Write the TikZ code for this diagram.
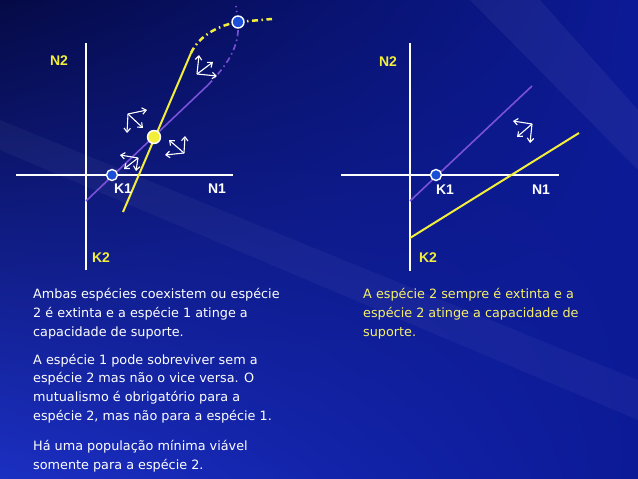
\documentclass[tikz,border=0pt]{standalone}
\usepackage{fontspec}
\setmainfont{DejaVu Sans}
\newfontfamily\axfont{Liberation Sans}
\usetikzlibrary{arrows.meta,shadings}
\definecolor{bgdark}{HTML}{050A45}
\definecolor{bgmid}{HTML}{0C1A96}
\definecolor{bglight}{HTML}{1B2FC2}
\definecolor{isoyel}{HTML}{F2EE3A}
\definecolor{isopur}{HTML}{7A52DA}
\definecolor{dotblue}{HTML}{1A4FD6}
\definecolor{txtyel}{HTML}{F6F06A}

\begin{document}
\begin{tikzpicture}[x=1pt,y=-1pt,
  axis/.style={white,line width=2pt},
  isoone/.style={isopur,line width=1.6pt},
  isotwo/.style={isoyel,line width=2pt},
  dashdot/.style={dash pattern=on 6pt off 3.5pt on 1.5pt off 3.5pt},
  axlabel/.style={font=\axfont\bfseries\fontsize{14}{14}\selectfont},
  vec/.style={white,line width=1.1pt,-{Straight Barb[length=4pt,width=6.5pt]}},
  eqdot/.style={circle,draw=white,line width=1.4pt,minimum size=11pt,inner sep=0pt},
  bodytext/.style={anchor=base west,align=left,inner sep=0pt,
    font=\fontsize{12.8}{18.6}\selectfont}]
  % background
  \shade[upper left=bgdark,upper right=bgmid,lower left=bglight,lower right=bgmid]
    (0,0) rectangle (638,479);
  \fill[white,opacity=0.05] (470,0) -- (540,0) -- (638,110) -- (638,170) -- cycle;
  \fill[white,opacity=0.04] (0,120) -- (0,150) -- (638,420) -- (638,380) -- cycle;
  \useasboundingbox (0,0) rectangle (638,479);

  % ---- left panel: axes
  \coordinate (lxa) at (16,175);  \coordinate (lxb) at (233,175);
  \coordinate (lya) at (86,43);   \coordinate (lyb) at (86,270);
  \draw[axis] (lxa) -- (lxb);
  \draw[axis] (lya) -- (lyb);
  % isoclines
  \coordinate (lpa) at (86,201);  \coordinate (lpb) at (208,85);
  \coordinate (lya2) at (123,212); \coordinate (lyb2) at (191,53);
  \coordinate (lsat) at (238,22);
  \draw[isoone] (lpa) -- (lpb);
  \draw[isoone,dashdot] (lpb) .. controls (226,66) and (240,48) .. (lsat) -- (236,6);
  \draw[isotwo] (lya2) -- (lyb2);
  \draw[isotwo,line width=2.5pt,dashdot] (lyb2) .. controls (198,38) and (215,26) .. (lsat) -- (272,19);
  % equilibria
  \node[eqdot,fill=dotblue] (lk1) at (112,175) {};
  \node[eqdot,fill=isoyel,minimum size=13pt] (lmid) at (154,137) {};
  \node[eqdot,fill=dotblue,minimum size=12pt] (ltop) at (lsat) {};
  % labels
  \node[axlabel,isoyel] (ln2) at (59,61) {N2};
  \node[axlabel,isoyel] (lk2) at (101,258) {K2};
  \node[axlabel,white] (lk1t) at (123,189) {K1};
  \node[axlabel,white] (ln1) at (217,189) {N1};

  % ---- right panel: axes
  \coordinate (rxa) at (341,175); \coordinate (rxb) at (559,175);
  \coordinate (rya) at (410,43);  \coordinate (ryb) at (410,271);
  \draw[axis] (rxa) -- (rxb);
  \draw[axis] (rya) -- (ryb);
  % isoclines
  \coordinate (rpa) at (410,201); \coordinate (rpb) at (532,86);
  \coordinate (rya2) at (410,238); \coordinate (ryb2) at (579,133);
  \draw[isoone] (rpa) -- (rpb);
  \draw[isotwo] (rya2) -- (ryb2);
  \node[eqdot,fill=dotblue] (rk1) at (436,175) {};
  % labels
  \node[axlabel,isoyel] (rn2) at (388,62) {N2};
  \node[axlabel,isoyel] (rk2) at (428,258) {K2};
  \node[axlabel,white] (rk1t) at (445,190) {K1};
  \node[axlabel,white] (rn1) at (541,190) {N1};

  % ---- vectors: origin / three tips
  \foreach \n/\ox/\oy/\ax/\ay/\bx/\by/\cx/\cy in {
      1/128/114/147/110/127/133/143/128,
      2/184/153/185/136/165/155/169/140,
      3/138/158/120/155/124/169/136/171,
      4/197/74/199/55/217/76/213/62,
      5/532/124/513/121/517/137/530/143}{
    \coordinate (v\n) at (\ox,\oy);
    \coordinate (v\n a) at (\ax,\ay);
    \coordinate (v\n b) at (\bx,\by);
    \coordinate (v\n c) at (\cx,\cy);
    \draw[vec] (v\n) -- (v\n a);
    \draw[vec] (v\n) -- (v\n b);
    \draw[vec] (v\n) -- (v\n c);
  }

  % ---- texts (base = last line)
  \node[bodytext,white] (lt1) at (33,336) {Ambas espécies coexistem ou espécie\\2 é extinta e a espécie 1 atinge a\\capacidade de suporte.};
  \node[bodytext,white] (lt2) at (33,420) {A espécie 1 pode sobreviver sem a\\espécie 2 mas não o vice versa. O\\mutualismo é obrigatório para a\\espécie 2, mas não para a espécie 1.};
  \node[bodytext,white] (lt3) at (33,469) {Há uma população mínima viável\\somente para a espécie 2.};
  \node[bodytext,txtyel] (rt1) at (363,336) {A espécie 2 sempre é extinta e a\\espécie 2 atinge a capacidade de\\suporte.};
\end{tikzpicture}
\end{document}
